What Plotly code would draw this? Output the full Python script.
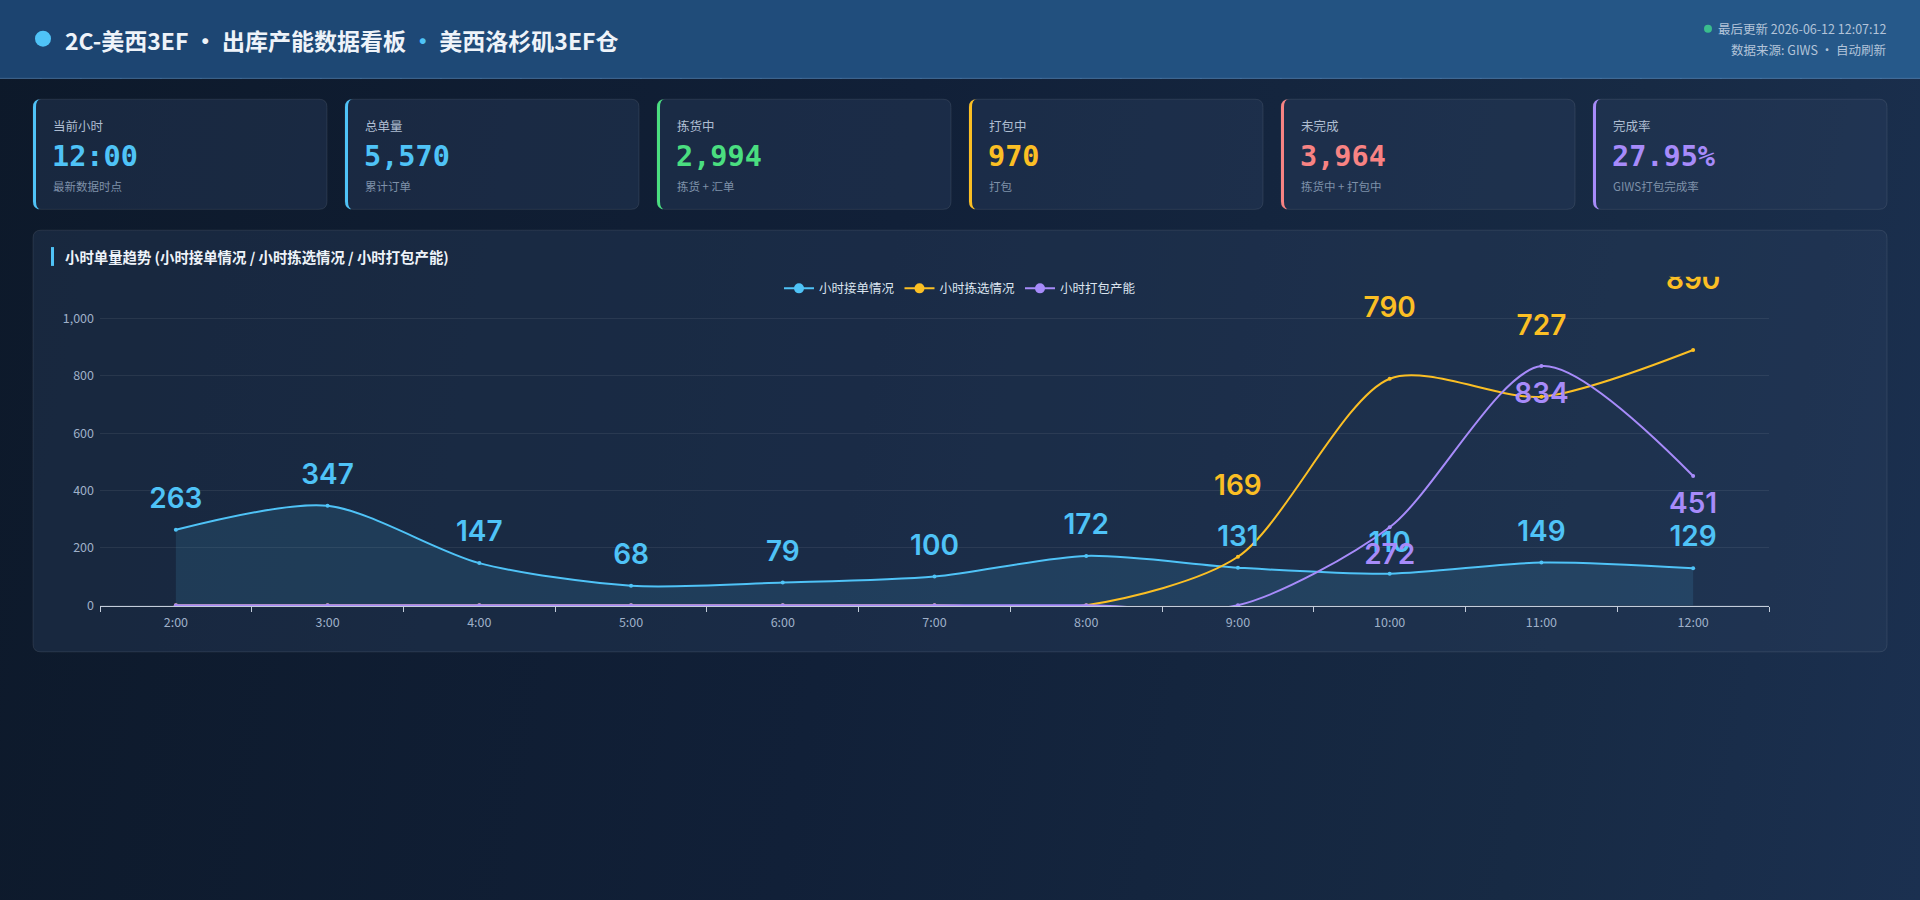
import plotly.graph_objects as go

W, H = 1920, 900

# ---------------- data ----------------
hours = ["2:00", "3:00", "4:00", "5:00", "6:00", "7:00", "8:00", "9:00", "10:00", "11:00", "12:00"]
orders_received = [263, 347, 147, 68, 79, 100, 172, 131, 110, 149, 129]
orders_picked = [0, 0, 0, 0, 0, 0, 0, 169, 790, 727, 890]
orders_packed = [0, 0, 0, 0, 0, 0, 0, 0, 272, 834, 451]
series_names = ["小时接单情况", "小时拣选情况", "小时打包产能"]

kpi_titles = ["当前小时", "总单量", "拣货中", "打包中", "未完成", "完成率"]
kpi_values = ["12:00", "5,570", "2,994", "970", "3,964", "27.95%"]
kpi_notes = ["最新数据时点", "累计订单", "拣货 + 汇单", "打包", "拣货中 + 打包中", "GIWS打包完成率"]

y_ticks = [0, 200, 400, 600, 800, 1000]

# ---------------- styles ----------------
C_BLUE = "#4fc3f7"
C_YELLOW = "#fbbf24"
C_PURPLE = "#a78bfa"
kpi_colors = ["#4fc3f7", "#4fc3f7", "#4ade80", "#fbbf24", "#f88383", "#a78bfa"]
CJK = "Noto Sans CJK SC"
MONO = "DejaVu Sans Mono"


def px(x):
    return x / W


def py(y):
    return 1 - y / H


def rr_path(x0, y0, x1, y1, r):
    X0, X1 = px(x0), px(x1)
    Y0, Y1 = py(y0), py(y1)
    rx, ry = r / W, r / H
    return (f"M{X0+rx},{Y0} L{X1-rx},{Y0} Q{X1},{Y0} {X1},{Y0-ry} "
            f"L{X1},{Y1+ry} Q{X1},{Y1} {X1-rx},{Y1} L{X0+rx},{Y1} "
            f"Q{X0},{Y1} {X0},{Y1+ry} L{X0},{Y0-ry} Q{X0},{Y0} {X0+rx},{Y0} Z")


def left_bar_path(x0, y0, y1, r, w):
    X0 = px(x0)
    Xw = px(x0 + w)
    Y0, Y1 = py(y0), py(y1)
    rx, ry = r / W, r / H
    return (f"M{X0+rx},{Y0} Q{X0},{Y0} {X0},{Y0-ry} L{X0},{Y1+ry} Q{X0},{Y1} {X0+rx},{Y1} "
            f"Q{Xw},{Y1} {Xw},{Y1+ry} L{Xw},{Y0-ry} Q{Xw},{Y0} {X0+rx},{Y0} Z")


shapes = []
annotations = []


def lerp(c1, c2, t):
    a = [int(c1[i:i+2], 16) for i in (1, 3, 5)]
    b = [int(c2[i:i+2], 16) for i in (1, 3, 5)]
    return "#" + "".join(f"{round(a[k] + (b[k]-a[k])*t):02x}" for k in range(3))


# header gradient strips
N = 48
for i in range(N):
    shapes.append(dict(type="rect", xref="paper", yref="paper",
                       x0=i / N, x1=(i + 1) / N + 0.001, y0=py(79), y1=1,
                       fillcolor=lerp("#1c4470", "#26598a", i / (N - 1)), line_width=0, layer="below"))
shapes.append(dict(type="line", xref="paper", yref="paper", x0=0, x1=1, y0=py(79), y1=py(79),
                   line=dict(color="rgba(120,170,220,0.45)", width=1), layer="below"))

# header title
shapes.append(dict(type="circle", xref="paper", yref="paper",
                   x0=px(35), x1=px(51), y0=py(31), y1=py(47), fillcolor=C_BLUE, line_width=0))
annotations.append(dict(xref="paper", yref="paper", x=px(63), y=py(40), xanchor="left", yanchor="middle",
                        showarrow=False,
                        text=f"2C-美西3EF · 出库产能数据看板 <span style='color:{C_BLUE}'>·</span> 美西洛杉矶3EF仓",
                        font=dict(family=CJK, size=23, color="#eef3f9", weight=700)))
shapes.append(dict(type="circle", xref="paper", yref="paper",
                   x0=px(1704), x1=px(1712), y0=py(25), y1=py(33), fillcolor="#3ecf8e",
                   opacity=0.85, line_width=0))
annotations.append(dict(xref="paper", yref="paper", x=px(1888), y=py(29), xanchor="right", yanchor="middle",
                        showarrow=False, text="最后更新 2026-06-12 12:07:12",
                        font=dict(family=CJK, size=12.5, color="#b3c4d9")))
annotations.append(dict(xref="paper", yref="paper", x=px(1888), y=py(50), xanchor="right", yanchor="middle",
                        showarrow=False, text="数据来源: GIWS · 自动刷新",
                        font=dict(family=CJK, size=12.5, color="#b3c4d9")))

# KPI cards
card_w, gap, cx0, cy0, cy1 = 294, 18, 33, 100, 211
for i in range(6):
    x0 = cx0 + i * (card_w + gap)
    x1 = x0 + card_w
    shapes.append(dict(type="path", xref="paper", yref="paper", path=rr_path(x0, cy0, x1, cy1, 8),
                       fillcolor="rgba(42,62,94,0.40)", line=dict(color="rgba(255,255,255,0.09)", width=1),
                       layer="below"))
    shapes.append(dict(type="path", xref="paper", yref="paper", path=left_bar_path(x0, cy0, cy1, 8, 3),
                       fillcolor=kpi_colors[i], line_width=0, layer="below"))
    annotations.append(dict(xref="paper", yref="paper", x=px(x0 + 18), y=py(126), xanchor="left",
                            yanchor="middle", showarrow=False, text=kpi_titles[i],
                            font=dict(family=CJK, size=12.5, color="#aebdd1")))
    annotations.append(dict(xref="paper", yref="paper", x=px(x0 + 17), y=py(158), xanchor="left",
                            yanchor="middle", showarrow=False, text=kpi_values[i],
                            font=dict(family=MONO, size=28.5, color=kpi_colors[i], weight=700)))
    annotations.append(dict(xref="paper", yref="paper", x=px(x0 + 18), y=py(187), xanchor="left",
                            yanchor="middle", showarrow=False, text=kpi_notes[i],
                            font=dict(family=CJK, size=11.5, color="#7f91a9")))

# chart panel
shapes.append(dict(type="path", xref="paper", yref="paper", path=rr_path(33, 232, 1887, 657, 8),
                   fillcolor="rgba(42,62,94,0.38)", line=dict(color="rgba(255,255,255,0.09)", width=1),
                   layer="below"))
shapes.append(dict(type="rect", xref="paper", yref="paper", x0=px(51), x1=px(54), y0=py(268), y1=py(249),
                   fillcolor=C_BLUE, line_width=0))
annotations.append(dict(xref="paper", yref="paper", x=px(63), y=py(259), xanchor="left", yanchor="middle",
                        showarrow=False, text="小时单量趋势 (小时接单情况 / 小时拣选情况 / 小时打包产能)",
                        font=dict(family=CJK, size=14.4, color="#eef3f9", weight=700)))

# ---------------- plot geometry ----------------
PX_PER_UNIT = 0.289
ZERO_PX = 610
TOP_PX = 279
Y_MIN = -4
Y_MAX = (ZERO_PX - TOP_PX) / PX_PER_UNIT
BOTTOM_PX = ZERO_PX - Y_MIN * PX_PER_UNIT


def label_y(values, offset_px):
    return [v + offset_px / PX_PER_UNIT for v in values]


def label_text(values):
    return [f"{v}" if v else "" for v in values]


fig = go.Figure()
series = [(orders_received, C_BLUE), (orders_picked, C_YELLOW), (orders_packed, C_PURPLE)]
for k, (vals, col) in enumerate(series):
    extra = dict(fill="tozeroy", fillcolor="rgba(79,195,247,0.12)") if k == 0 else {}
    fig.add_trace(go.Scatter(x=hours, y=vals, name=series_names[k], mode="lines+markers",
                             line=dict(color=col, width=2, shape="spline", smoothing=0.8),
                             marker=dict(size=4, color=col), showlegend=False, **extra))

# legend entries (bigger symbol like the reference legend)
for k, (vals, col) in enumerate(series):
    fig.add_trace(go.Scatter(x=[None], y=[None], name=series_names[k], mode="lines+markers",
                             line=dict(color=col, width=2), marker=dict(size=10, color=col),
                             showlegend=True, hoverinfo="skip"))

label_font = dict(family="Inter", size=28, weight=600)
for vals, col, off in [(orders_received, C_BLUE, 29), (orders_picked, C_YELLOW, 69),
                       (orders_packed, C_PURPLE, -30)]:
    fig.add_trace(go.Scatter(x=hours, y=label_y(vals, off), mode="text", text=label_text(vals),
                             textposition="middle center", textfont=dict(color=col, **label_font),
                             showlegend=False, hoverinfo="skip", cliponaxis=True))

fig.update_layout(
    width=W, height=H, autosize=False,
    margin=dict(l=0, r=0, t=0, b=0),
    paper_bgcolor="rgba(0,0,0,0)", plot_bgcolor="rgba(0,0,0,0)",
    font=dict(family=CJK, color="#9fb0c8", size=12),
    shapes=shapes, annotations=annotations,
    showlegend=True,
    legend=dict(orientation="h", x=0.5, xanchor="center", y=py(291), yanchor="middle",
                font=dict(family=CJK, size=12.5, color="#dbe4ef"), bgcolor="rgba(0,0,0,0)",
                itemclick=False, itemwidth=30),
    xaxis=dict(type="category", categoryorder="array", categoryarray=hours,
               domain=[px(100), px(1769)], range=[-0.5, len(hours) - 0.5],
               showline=True, linecolor="#c3cddb", linewidth=1,
               ticks="outside", tickson="boundaries", ticklen=5, tickcolor="#c3cddb",
               ticklabelstandoff=5,
               showgrid=False, zeroline=False, tickfont=dict(size=12.5, color="#9fb0c8"), fixedrange=True),
    yaxis=dict(domain=[py(BOTTOM_PX), py(TOP_PX)], range=[Y_MIN, Y_MAX],
               tickvals=y_ticks, tickformat=",d", showline=False, zeroline=False,
               showgrid=True, gridcolor="rgba(255,255,255,0.07)", gridwidth=1,
               ticklabelstandoff=5,
               tickfont=dict(size=12.5, color="#9fb0c8"), ticks="", fixedrange=True),
    hovermode=False,
)

post = """
document.documentElement.style.background = '#0f1c2e';
document.body.style.margin = '0';
document.body.style.overflow = 'hidden';
document.body.style.background = 'linear-gradient(100deg, #0d192a 0%, #112038 45%, #172a44 80%, #1b3050 100%)';
"""

fig.write_html("out.html", post_script=post, config={"displayModeBar": False})
